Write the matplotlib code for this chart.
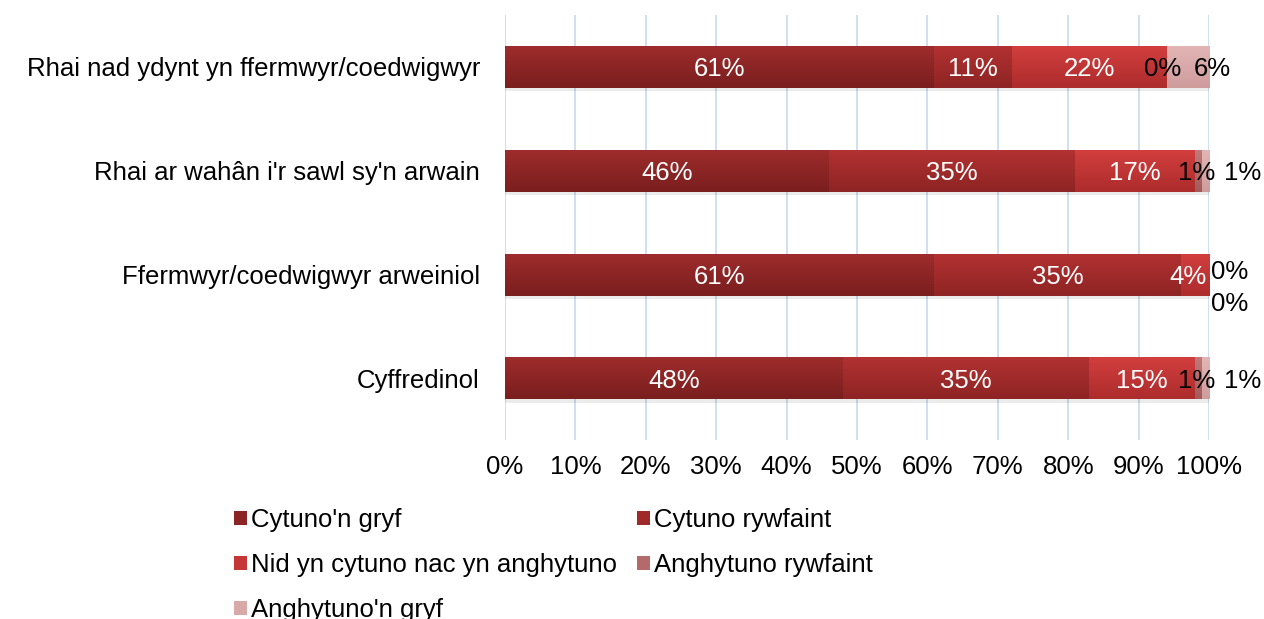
import numpy as np
import matplotlib
matplotlib.use("Agg")
from matplotlib import pyplot as plt
from matplotlib.patches import Patch
from matplotlib.colors import LinearSegmentedColormap

plt.rcParams['font.family'] = ['Liberation Sans', 'DejaVu Sans']

# data
categories = ["Rhai nad ydynt yn ffermwyr/coedwigwyr",
              "Rhai ar wahân i'r sawl sy'n arwain",
              "Ffermwyr/coedwigwyr arweiniol",
              "Cyffredinol"]
series_names = ["Cytuno'n gryf", "Cytuno rywfaint",
                "Nid yn cytuno nac yn anghytuno", "Anghytuno rywfaint",
                "Anghytuno'n gryf"]
cytuno_gryf = [61, 46, 61, 48]
cytuno_rywfaint = [11, 35, 35, 35]
niwtral = [22, 17, 4, 15]
anghytuno_rywfaint = [0, 1, 0, 1]
anghytuno_gryf = [6, 1, 0, 1]
xticks = [0, 10, 20, 30, 40, 50, 60, 70, 80, 90, 100]

values = [cytuno_gryf, cytuno_rywfaint, niwtral, anghytuno_rywfaint, anghytuno_gryf]

FS = 18.5

# top / bottom colours of each gradient
grads = [("#9e2c2c", "#7a1e1e"),
         ("#b23131", "#8e2424"),
         ("#d23e3e", "#ad2c2c"),
         ("#c07a7a", "#a45a5a"),
         ("#e2b5b5", "#cf9c9c")]
mids = ["#8c2525", "#a02a2a", "#c53636", "#b46a6a", "#d9a9a9"]
txt_col = ["white", "white", "white", "black", "black"]

# label nudges in pixels (dx, dy) where Excel moved small labels
nudge = {(0, 3): (-4, 0), (0, 4): (24, 0),
         (1, 3): (-2, 0), (1, 4): (37, 0),
         (2, 2): (-7, 0), (2, 3): (21, 5), (2, 4): (21, -27),
         (3, 3): (-2, 0), (3, 4): (37, 0)}

fig = plt.figure(figsize=(12.64, 6.19), dpi=100)
ax = fig.add_axes([505/1264, 1 - 440/619, 704/1264, 425/619])

y = np.arange(len(categories))
h = 0.4
left = np.zeros(len(categories))
for s, vals in enumerate(values):
    vals = np.array(vals, dtype=float)
    cmap = LinearSegmentedColormap.from_list("g%d" % s, [grads[s][0], grads[s][1]])
    # shadow
    ax.barh(y + 0.035, vals, left=left, height=h, color="#000000", alpha=0.08,
            zorder=1, linewidth=0)
    bars = ax.barh(y, vals, left=left, height=h, color=mids[s], zorder=2, linewidth=0)
    for b in bars:
        x0, y0 = b.get_x(), b.get_y()
        w, hh = b.get_width(), b.get_height()
        if w <= 0:
            continue
        grad = np.linspace(0, 1, 50).reshape(-1, 1)
        ax.imshow(grad, cmap=cmap, extent=[x0, x0 + w, y0 + hh, y0],
                  aspect='auto', zorder=3, interpolation='bilinear')
    for i, v in enumerate(vals):
        dx, dy = nudge.get((i, s), (0, 0))
        ax.annotate("%d%%" % v, xy=(left[i] + v / 2, y[i]), xytext=(dx, dy - 2),
                    textcoords='offset pixels', ha='center', va='center',
                    color=txt_col[s], fontsize=FS, zorder=5, annotation_clip=False)
    left += vals

ax.set_xlim(0, 100)
ax.set_ylim(3.59, -0.5)
ax.set_xticks(xticks)
ax.set_xticklabels(["%d%%" % t for t in xticks])
ax.set_yticks(y)
ax.set_yticklabels(categories)
ax.tick_params(axis='both', length=0, labelsize=FS)
ax.tick_params(axis='y', pad=18)
ax.tick_params(axis='x', pad=11)
ax.grid(axis='x', color="#c8d9ef", linewidth=1.2, zorder=0)
ax.set_axisbelow(True)
for sp in ax.spines.values():
    sp.set_visible(False)

handles = [Patch(facecolor=mids[s], edgecolor='none') for s in range(5)]
order = [0, 2, 4, 1, 3]
fig.legend([handles[k] for k in order], [series_names[k] for k in order],
           loc='upper left', bbox_to_anchor=(234/1264, 1 - 508/619), ncol=2,
           frameon=False, fontsize=FS, handlelength=0.5, handleheight=0.5,
           handletextpad=0.15, columnspacing=0.8, labelspacing=0.82,
           borderpad=0, borderaxespad=0)

fig.savefig("out.png", dpi=100)
